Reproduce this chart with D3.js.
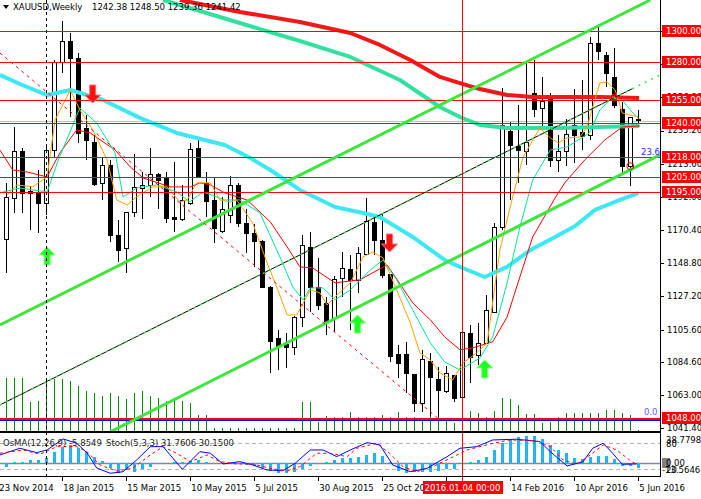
<!DOCTYPE html>
<html>
<head>
<meta charset="utf-8">
<script src="https://cdn.jsdelivr.net/npm/d3@7"></script>
<style>
  body { margin: 0; background: #fff; }
  svg { display: block; }
  text { font-family: "DejaVu Sans", Tahoma, sans-serif; font-size: 8.5px; }
</style>
</head>
<body>
<div id="chart"></div>
<script>
// weekly XAUUSD bars, index 0 = week of 30 Nov 2014, index 79 = week of 5 Jun 2016
const open = [1165.0,1191.1,1221.9,1196.0,1194.3,1187.8,1222.5,1279.6,1293.5,1282.2,
  1236.6,1228.0,1201.3,1212.8,1167.2,1158.5,1182.0,1197.6,1199.7,1206.9,
  1204.8,1179.1,1177.4,1187.8,1223.6,1201.3,1190.0,1169.8,1180.2,1199.7,
  1175.0,1168.3,1163.5,1133.5,1099.9,1096.2,1094.4,1114.0,1159.2,1133.1,
  1122.7,1113.0,1139.0,1144.9,1137.9,1155.3,1175.9,1164.0,1141.8,1089.7,
  1089.7,1076.7,1057.6,1085.4,1073.2,1065.2,1076.0,1062.0,1103.6,1089.1,
  1097.1,1117.3,1172.4,1235.1,1225.3,1222.0,1259.8,1250.3,1256.0,1216.0,
  1222.0,1238.8,1234.4,1232.3,1292.0,1284.4,1270.2,1249.0,1211.7,1242.38];
const high = [1200.8,1237.7,1224.0,1199.3,1209.5,1224.7,1281.0,1306.5,1298.5,1285.5,
  1245.3,1232.3,1218.2,1216.0,1177.0,1182.2,1219.9,1208.4,1223.6,1207.5,
  1208.4,1214.9,1199.7,1226.9,1229.5,1208.4,1204.1,1192.0,1205.6,1200.8,
  1184.1,1174.3,1164.0,1134.0,1105.3,1103.2,1114.4,1167.2,1169.3,1152.0,
  1127.0,1140.5,1156.3,1154.2,1159.6,1191.1,1179.1,1181.3,1141.8,1095.6,
  1097.7,1076.7,1092.3,1090.2,1081.4,1081.9,1076.0,1105.0,1108.6,1109.7,
  1128.1,1174.8,1262.7,1241.0,1251.8,1280.0,1281.0,1270.2,1259.8,1232.3,
  1243.0,1262.0,1268.0,1296.3,1302.8,1286.5,1288.7,1254.0,1243.8,1248.50];
const low = [1142.3,1181.3,1181.3,1170.4,1168.3,1180.0,1217.0,1272.5,1244.2,1226.9,
  1216.0,1199.0,1190.0,1162.8,1149.8,1142.3,1178.7,1177.6,1192.1,1184.1,
  1174.8,1169.3,1176.3,1186.7,1204.3,1179.1,1162.2,1168.3,1174.8,1172.6,
  1155.7,1146.6,1132.7,1077.1,1079.2,1080.4,1089.1,1107.5,1117.3,1118.4,
  1102.1,1104.2,1127.0,1105.3,1129.2,1154.2,1154.2,1139.0,1084.7,1073.9,
  1064.0,1052.2,1052.2,1049.0,1048.9,1064.3,1058.7,1062.0,1070.6,1082.6,
  1096.7,1117.3,1170.4,1190.0,1200.8,1212.8,1244.0,1236.9,1211.7,1208.4,
  1212.0,1213.9,1222.5,1229.0,1281.0,1263.7,1249.7,1207.4,1199.3,1239.36];
const close = [1192.1,1221.9,1194.3,1194.7,1187.8,1222.5,1280.0,1293.5,1282.6,1233.4,
  1229.0,1200.8,1212.8,1167.2,1157.4,1182.0,1198.2,1199.7,1206.9,1203.0,
  1178.0,1177.8,1190.0,1223.0,1205.1,1189.5,1171.6,1184.0,1199.7,1174.8,
  1168.3,1162.8,1133.5,1098.4,1094.9,1094.0,1114.0,1160.7,1133.1,1121.6,
  1110.8,1138.3,1145.5,1137.9,1155.3,1176.6,1164.0,1141.1,1088.6,1083.7,
  1077.5,1057.6,1086.3,1075.0,1065.8,1077.1,1060.9,1104.2,1087.9,1097.1,
  1118.4,1172.6,1238.8,1225.8,1222.5,1228.0,1249.7,1254.6,1216.5,1222.0,
  1233.0,1232.3,1231.6,1292.0,1286.5,1272.5,1251.8,1211.7,1243.8,1241.42];
const volume = [53,53,53,29,30,52,52,52,50,45,40,38,35,38,35,32,38,40,35,33,
  30,30,30,28,16,16,3,3,3,3,3,3,3,3,3,3,3,29,29,9,
  15,14,14,19,14,14,14,16,14,19,14,14,12,17,14,12,8,12,20,18,
  14,20,33,32,26,17,17,8,9,14,18,18,18,18,18,21,21,18,16,1];
const osma = [-5,1.5,2.4,4.8,4.8,8.1,16.5,23.6,26,21.3,16.5,9.5,3.4,-7,-13.2,-9.3,-11.7,-8.3,-4.7,-1.5,
  1,2,1.5,3,4.8,2.4,1,-1,0.5,-1.5,-2,-3,-6,-10.7,-13,-13.5,-12,-8,-4,-1.5,
  1.5,4.8,7,7.2,9.5,11.9,14.3,10.5,2.4,-10.3,-13.5,-12.5,-11.5,-11.5,-10.5,-8.5,-7.6,-1,2.4,4.8,
  9.5,19,29.3,34,36.9,38.8,38.8,34,26,19,14.3,8,6,9,10,11,6,-3,-4,-5.85];

// moving averages: [bar index, price]
const maCyan = [[-0.8,1271.4],[1.7,1265.5],[5.1,1258.3],[8,1261.6],[12.1,1255.1],[16.7,1243.4],[21.3,1233.6],
  [23.3,1231],[27.3,1225.8],[30.5,1217.3],[33,1209.5],[36.7,1196.5],[41.1,1185.4],[44.6,1181.5],[46.7,1178.9],
  [50.8,1165.9],[54.8,1150.9],[56.7,1146.4],[59.8,1139.8],[62.6,1146.4],[65.5,1157.4],[68.6,1165.9],
  [71.1,1173],[73.6,1183.5],[76.7,1190],[79,1194.5]];
const maTeal = [[19.6,1320.2],[29.2,1305.2],[36.7,1293.5],[43,1283.1],[49.2,1268.1],[54.2,1250.5],[56.7,1244],
  [59.2,1238.8],[62.6,1236.8],[69.2,1236.8],[74.2,1237.5],[79.1,1238.2]];
const maRedThick = [[21.7,1320.2],[29.2,1312.4],[36.7,1305.9],[43,1298.7],[46.7,1290.9],[50.5,1281.1],[54.2,1270.1],
  [56.7,1266.1],[59.2,1262.2],[62.6,1258.3],[65.8,1257],[69.2,1257],[74.2,1257],[79.1,1256.4]];
const maRedThin = [[-0.8,1222.5],[0.8,1209.5],[2.6,1208.2],[5.1,1205],[6.7,1220.6],[8.8,1235.6],[10.5,1233.6],
  [13.6,1222.5],[15.5,1211.5],[17.1,1204.3],[20.5,1198.5],[23,1198.5],[24.2,1201.1],[25.5,1199.8],[27.3,1194.6],
  [30.1,1190],[33,1175.7],[35.1,1159.4],[36.7,1146.4],[38.3,1145.7],[41.1,1136],[44.2,1138],[47.6,1147.7],
  [50.8,1123],[53,1111.9],[54.8,1100.8],[56.7,1092.4],[58.3,1093.7],[60.8,1097.6],[62.6,1113.8],[64.2,1139.9],
  [65.8,1165.9],[68.6,1191.3],[69.8,1201.1],[72.3,1216],[74.8,1229],[77,1237.5],[79.2,1238.2]];
const maGreenThin = [[-0.8,1194.6],[1.7,1197.8],[5.1,1195.2],[6.5,1216],[9.2,1249.9],[11.3,1240.1],[13.6,1220.6],
  [14.6,1191.9],[16.3,1197.8],[18.8,1199.8],[21.3,1195.2],[22.9,1188.7],[24.6,1195.2],[27.3,1190],[29.2,1190],
  [31.7,1181.5],[34.2,1152.9],[35.8,1133.4],[37.1,1124.9],[38,1132.7],[39.6,1132.7],[41.1,1124.9],[43,1131.4],
  [45.5,1144.4],[47.1,1150.9],[48.8,1137.9],[50.8,1118.4],[53,1097],[54.8,1084.5],[56.7,1079.3],[59.2,1087.1],
  [60.8,1100.8],[62.6,1136],[64.2,1172.4],[65.8,1203],[68,1222.5],[70.1,1224.5],[72.9,1233.6],[74.2,1248.6],
  [75.7,1256.4],[77,1255.1],[78.2,1247.3],[79,1243.4]];
const maOrange = [[0.1,1193.3],[1.3,1199.8],[3.3,1198.5],[5.1,1205],[6.1,1242.1],[8,1261.6],[9.2,1248.6],
  [10.8,1235.6],[12.6,1216],[13.8,1190],[15.1,1186.7],[16.3,1192],[18.3,1198.5],[20.1,1198.5],[21.7,1188.7],
  [22.6,1190],[23.8,1201.1],[25.5,1201.1],[26.7,1190],[28,1188.7],[28.8,1190],[30.8,1175],[32.6,1149],
  [33.8,1133.4],[35.1,1115.1],[36.3,1115.1],[38,1131.4],[39.2,1129.5],[40.1,1121.6],[41.1,1126.9],[43,1136],
  [44.6,1152.9],[45.8,1156.1],[47.1,1152.2],[48.8,1131.4],[50.5,1109.9],[51.7,1090.4],[53,1085.8],[54.2,1077.4],
  [55.8,1072.8],[57.1,1083.9],[58.8,1090.4],[60.1,1096.9],[61.7,1157.4],[63.3,1192],[64.6,1218],[66.7,1236.9],
  [68,1230.4],[69,1227.1],[70.1,1230.4],[71.7,1231],[72.6,1237.5],[73.3,1250.5],[74.2,1266.2],[75.1,1266.8],
  [76.1,1261.6],[77,1246.6],[79,1244]];

// stochastic (5,3,3)
const stochMain = [[-0.8,52.4],[1.7,67.8],[3.8,57.7],[5.1,63.9],[7.1,89.3],[8.8,79.4],[10.1,57],[11.3,22.4],
  [13,10.2],[14.6,13.8],[16.3,40.8],[18,71.5],[19.6,71.5],[22,19.4],[24.2,60],[25.5,56.3],[27.1,31.6],[29.2,36.9],
  [30.8,29.3],[32.6,17.8],[34.6,16.2],[36.1,33.2],[38,63.9],[39.6,63.9],[41.3,48.5],[43,63.9],[45.1,80.8],
  [46.7,75.5],[48.3,29.3],[50.5,13.8],[52.6,21.7],[55.1,48.5],[56.7,67.8],[58.8,71.5],[60.8,87],[63.8,88.6],
  [66.7,83.1],[68,60],[70.1,27],[72.1,36.9],[73.3,67.8],[74.6,79.4],[75.8,56.3],[77,30.9],[78.8,31.76]];
const stochSignal = [[-0.8,56.3],[2.1,63.9],[4.2,54],[6.3,71.5],[8.8,71.5],[10.1,60],[11.7,29.3],[13.8,15.5],
  [15.8,21.7],[18,52.4],[19.6,71.5],[21.3,56.3],[23,36.9],[25.1,52.4],[26.7,36.9],[28.8,31.6],[30.8,31.6],
  [33,21.7],[35.1,15.5],[36.7,25.4],[38.8,56.3],[40.5,56.3],[42.6,48.5],[43.8,67.8],[46.3,79.4],[47.9,56.3],
  [49.6,25.4],[51.3,13.8],[53.3,25.4],[55.5,44.8],[57.6,63.9],[60.5,77.8],[62.9,87],[66.3,85.4],[68,71.5],
  [69.6,40.8],[71.3,30.9],[73,52.4],[74.6,75.5],[76.3,63.9],[77.9,40.8],[78.8,30.15]];

// drawn objects
const levels = [1300, 1280, 1255, 1240, 1218, 1205, 1195, 1048];
const priceTicks = [1041.4, 1063.0, 1084.6, 1105.6, 1127.2, 1148.8, 1170.4, 1192.0, 1213.6, 1235.2, 1256.8, 1278.4, 1300.0];
const dateLabels = ["23 Nov 2014", "18 Jan 2015", "15 Mar 2015", "10 May 2015", "5 Jul 2015", "30 Aug 2015",
  "25 Oct 2015", "20 Dec 2015", "14 Feb 2016", "10 Apr 2016", "5 Jun 2016"];
const dateLabelBars = [-1, 7, 15, 23, 31, 39, 47, 55, 63, 71, 79];
const upperChannel = [[-0.8, 1108.6], [80.5, 1320.2]];
const lowerChannel = [[13, 1039], [81.7, 1219.3]];
const midChannel = [[-0.8, 1056.5], [81.7, 1271.4]];
const midChannelEnd = 78.3;
const redTrend = [[-0.8, 1285.7], [54.2, 1046.8]];
const upArrowBars = [5.1, 43.9, 59.8], upArrowPrices = [1159.4, 1115.1, 1085.8];
const downArrowBars = [10.8, 47.9], downArrowPrices = [1253.1, 1156.1];
const dottedVLineBar = 5, crossVLineBar = 57;
const bid = 1241.42;

const x = d3.scaleLinear().domain([0, 79]).range([6.3, 638.3]);
const y = d3.scaleLinear().domain([1048, 1300]).range([418, 31]);
const yVol = d3.scaleLinear().domain([0, 60]).range([431, 371]);
const yOsma = d3.scaleLinear().domain([-13.5646, 38.7798]).range([473, 436]);
const yStoch = d3.scaleLinear().domain([0, 100]).range([477.7, 434.3]);
const px = i => Math.round(x(i)) + 0.5;
const py = v => Math.round(y(v)) + 0.5;

const svg = d3.select("#chart").append("svg").attr("width", 701).attr("height", 499);
const defs = svg.append("defs");
defs.append("clipPath").attr("id", "clipMain").append("rect")
    .attr("x", 0).attr("y", 0).attr("width", 661).attr("height", 431);
defs.append("clipPath").attr("id", "clipOsc").append("rect")
    .attr("x", 0).attr("y", 433).attr("width", 661).attr("height", 43);

const main = svg.append("g").attr("clip-path", "url(#clipMain)");
const priceLine = d3.line().x(d => x(d[0])).y(d => y(d[1]));

// volume-like histogram at the bottom of the main window
main.append("g").selectAll("line").data(volume).join("line")
    .attr("x1", (d, i) => px(i)).attr("x2", (d, i) => px(i))
    .attr("y1", yVol(0)).attr("y2", d => yVol(d))
    .attr("stroke", "#0a8a0a").attr("stroke-width", 1)
    .attr("shape-rendering", "crispEdges");

// bid line
main.append("line").attr("x1", 0).attr("x2", 661).attr("y1", py(bid)).attr("y2", py(bid))
    .attr("stroke", "#c0c0c0").attr("shape-rendering", "crispEdges");

// candles
const idx = d3.range(open.length);
const candles = main.append("g").selectAll("g").data(idx).join("g");
candles.append("line")
    .attr("x1", i => px(i)).attr("x2", i => px(i))
    .attr("y1", i => y(high[i])).attr("y2", i => y(low[i]))
    .attr("stroke", "#000").attr("shape-rendering", "crispEdges");
candles.append("rect")
    .attr("x", i => px(i) - 2)
    .attr("y", i => Math.round(y(Math.max(open[i], close[i]))) + 0.5)
    .attr("width", 4)
    .attr("height", i => Math.max(1, Math.round(Math.abs(y(open[i]) - y(close[i])))))
    .attr("fill", i => close[i] >= open[i] ? "#fff" : "#000")
    .attr("stroke", "#000").attr("shape-rendering", "crispEdges");

// moving averages
const maStyles = [
    [maCyan, "#3ee8f2", 4], [maTeal, "#34e0a0", 4], [maRedThick, "#f01818", 4],
    [maRedThin, "#ff0000", 1], [maGreenThin, "#00e890", 1], [maOrange, "#ffa000", 1]
];
maStyles.forEach(([pts, col, w]) => {
    main.append("path").attr("d", priceLine(pts))
        .attr("fill", "none").attr("stroke", col).attr("stroke-width", w)
        .attr("stroke-linejoin", "round");
});

// horizontal levels
levels.forEach(v => {
    main.append("line").attr("x1", 0).attr("x2", 661)
        .attr("y1", py(v)).attr("y2", py(v))
        .attr("stroke", "#ff0000").attr("stroke-width", v === 1048 ? 2 : 1)
        .attr("shape-rendering", "crispEdges");
});
main.append("line").attr("x1", 0).attr("x2", 661)
    .attr("y1", py(1048) + 2).attr("y2", py(1048) + 2)
    .attr("stroke", "#0000ff").attr("shape-rendering", "crispEdges");

// channels and trend lines
[upperChannel, lowerChannel].forEach(pts => {
    main.append("path").attr("d", priceLine(pts))
        .attr("stroke", "#3de63d").attr("stroke-width", 3).attr("fill", "none");
});
main.append("path").attr("d", priceLine([midChannel[0],
        [midChannelEnd, midChannel[0][1] + (midChannel[1][1] - midChannel[0][1]) *
            (midChannelEnd - midChannel[0][0]) / (midChannel[1][0] - midChannel[0][0])]]))
    .attr("stroke", "#000").attr("stroke-width", 1).attr("fill", "none");
main.append("path").attr("d", priceLine(midChannel))
    .attr("stroke", "#3de63d").attr("stroke-width", 1.5).attr("fill", "none")
    .style("stroke-dasharray", "2,5");
main.append("path").attr("d", priceLine(redTrend))
    .attr("stroke", "#ff0000").attr("stroke-width", 1).attr("fill", "none")
    .style("stroke-dasharray", "3,4");

// arrows
const upShape = "M0,0 L8,8 L3,8 L3,18 L-3,18 L-3,8 L-8,8 Z";
const downShape = "M0,0 L8,-8 L3,-8 L3,-18 L-3,-18 L-3,-8 L-8,-8 Z";
upArrowBars.forEach((b, i) => {
    main.append("path").attr("d", upShape)
        .attr("transform", `translate(${x(b)},${y(upArrowPrices[i])})`)
        .attr("fill", "#22ff22").attr("stroke", "#7dff7d").attr("stroke-width", 1);
});
downArrowBars.forEach((b, i) => {
    main.append("path").attr("d", downShape)
        .attr("transform", `translate(${x(b)},${y(downArrowPrices[i])})`)
        .attr("fill", "#ff1010").attr("stroke", "#ff7070").attr("stroke-width", 1);
});
main.append("circle").attr("cx", x(78)).attr("cy", y(1212)).attr("r", 3.5)
    .attr("fill", "none").attr("stroke", "#ff0000");
main.append("circle").attr("cx", x(76)).attr("cy", y(1257)).attr("r", 3)
    .attr("fill", "none").attr("stroke", "#ff0000");

// fibo labels
svg.append("text").attr("x", 641).attr("y", 155).attr("fill", "#2a2aff").attr("font-size", "10px").text("23.6");
svg.append("text").attr("x", 644).attr("y", 415).attr("fill", "#5a5aff").attr("font-size", "10px").text("0.0");

// header
svg.append("path").attr("d", "M3,5 L9,5 L6,9 Z").attr("fill", "#000");
svg.append("text").attr("x", 13).attr("y", 10).attr("fill", "#000").text("XAUUSD,Weekly");
svg.append("text").attr("x", 92).attr("y", 10).attr("fill", "#000").text("1242.38 1248.50 1239.36 1241.42");

// oscillator window
const osc = svg.append("g").attr("clip-path", "url(#clipOsc)");
[80, 20].forEach(v => {
    osc.append("line").attr("x1", 0).attr("x2", 661)
        .attr("y1", Math.round(yStoch(v)) + 0.5).attr("y2", Math.round(yStoch(v)) + 0.5)
        .attr("stroke", "#b4b4b4").style("stroke-dasharray", "4,3");
});
osc.append("line").attr("x1", 0).attr("x2", 661)
    .attr("y1", Math.round(yOsma(0)) + 0.5).attr("y2", Math.round(yOsma(0)) + 0.5)
    .attr("stroke", "#7a8a9a").attr("stroke-width", 1.5);
osc.append("g").selectAll("rect").data(osma).join("rect")
    .attr("x", (d, i) => Math.round(x(i)) - 1)
    .attr("y", d => Math.min(yOsma(d), yOsma(0)))
    .attr("width", 3)
    .attr("height", d => Math.abs(yOsma(d) - yOsma(0)))
    .attr("fill", "#1eb4f5").attr("shape-rendering", "crispEdges");
const stochLine = d3.line().x(d => x(d[0])).y(d => yStoch(d[1]));
osc.append("path").attr("d", stochLine(stochMain))
    .attr("fill", "none").attr("stroke", "#0000ff").attr("stroke-width", 1);
osc.append("path").attr("d", stochLine(stochSignal))
    .attr("fill", "none").attr("stroke", "#ff0000").attr("stroke-width", 1)
    .style("stroke-dasharray", "3,3");
svg.append("text").attr("x", 3).attr("y", 446).attr("fill", "#222").text("OsMA(12,26,9) -5.8549");
svg.append("text").attr("x", 106).attr("y", 446).attr("fill", "#222").text("Stoch(5,3,3) 31.7606 30.1500");

// vertical lines
svg.append("line").attr("x1", px(dottedVLineBar)).attr("x2", px(dottedVLineBar))
    .attr("y1", 0).attr("y2", 480).attr("stroke", "#000").style("stroke-dasharray", "3,3");
svg.append("line").attr("x1", px(crossVLineBar)).attr("x2", px(crossVLineBar))
    .attr("y1", 0).attr("y2", 481).attr("stroke", "#ff0000");

// frames
svg.append("line").attr("x1", 0).attr("x2", 661).attr("y1", 432).attr("y2", 432)
    .attr("stroke", "#000").attr("stroke-width", 2);
svg.append("line").attr("x1", 0).attr("x2", 661).attr("y1", 476.5).attr("y2", 476.5).attr("stroke", "#000");
svg.append("line").attr("x1", 660.5).attr("x2", 660.5).attr("y1", 0).attr("y2", 477).attr("stroke", "#000");

// right price axis
const axisG = svg.append("g");
priceTicks.forEach(v => {
    axisG.append("line").attr("x1", 661).attr("x2", 664).attr("y1", py(v)).attr("y2", py(v)).attr("stroke", "#000");
    axisG.append("text").attr("x", 667).attr("y", y(v)).attr("dy", "0.35em").attr("fill", "#000").text(v.toFixed(2));
});
levels.forEach(v => {
    axisG.append("rect").attr("x", 662).attr("y", Math.round(y(v)) - 6).attr("width", 39).attr("height", 12)
        .attr("fill", "#ff0000");
    axisG.append("text").attr("x", 666).attr("y", y(v)).attr("dy", "0.35em").attr("fill", "#fff").text(v.toFixed(2));
});

// oscillator scale labels
axisG.append("rect").attr("x", 662).attr("y", 458).attr("width", 8).attr("height", 10).attr("fill", "#808080");
[["38.7798", 440, 666], ["80", 444, 666], ["0.00", 463, 666], ["20", 470, 666], ["-13.5646", 470.5, 662]]
    .forEach(([t, yy, xx]) => {
        axisG.append("text").attr("x", xx).attr("y", yy).attr("dy", "0.35em").attr("fill", "#000")
            .attr("font-size", t === "-13.5646" ? "8px" : null).text(t);
    });

// time axis
dateLabels.forEach((t, i) => {
    const xx = x(dateLabelBars[i]);
    svg.append("line").attr("x1", Math.round(xx) + 0.5).attr("x2", Math.round(xx) + 0.5)
        .attr("y1", 477).attr("y2", 481).attr("stroke", "#000");
    svg.append("text").attr("x", xx + 1).attr("y", 491).attr("fill", "#000").text(t);
});
svg.append("rect").attr("x", 423).attr("y", 481).attr("width", 80).attr("height", 13).attr("fill", "#ff0000");
svg.append("text").attr("x", px(crossVLineBar)).attr("y", 491).attr("text-anchor", "middle")
    .attr("fill", "#fff").text("2016.01.04 00:00");
</script>
</body>
</html>
